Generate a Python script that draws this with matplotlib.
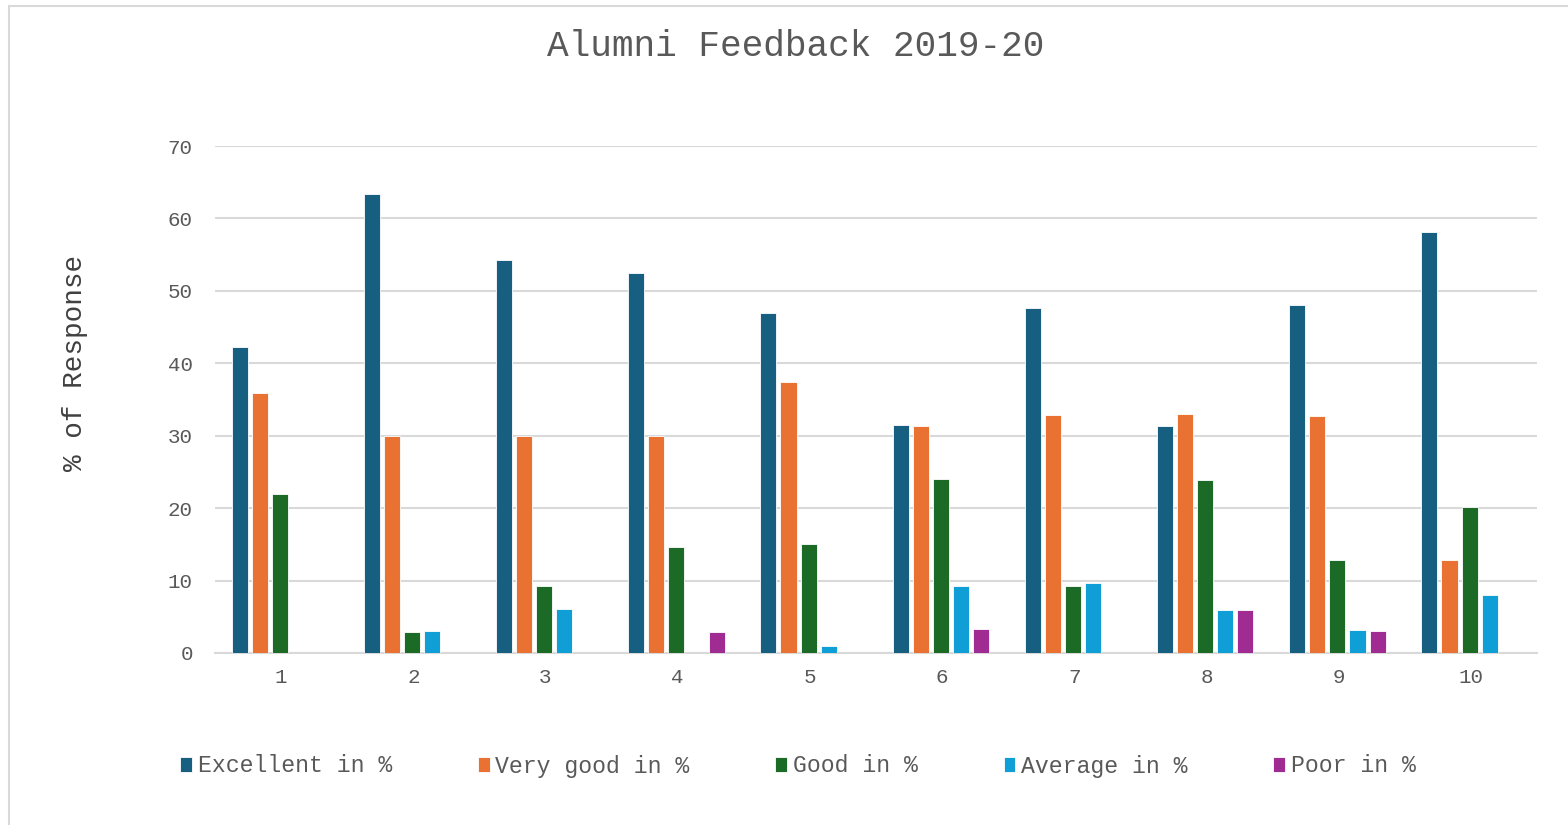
import numpy as np
import matplotlib.pyplot as plt
from matplotlib.patches import Rectangle

plt.rcParams['font.family'] = ['Liberation Mono', 'DejaVu Sans Mono']

questions = ["1", "2", "3", "4", "5", "6", "7", "8", "9", "10"]
excellent = [42.2, 63.4, 54.2, 52.5, 47.0, 31.5, 47.7, 31.4, 48.1, 58.1]
very_good = [35.9, 30.0, 30.0, 30.0, 37.4, 31.3, 32.9, 33.0, 32.7, 12.9]
good = [22.0, 2.95, 9.3, 14.7, 15.0, 24.0, 9.3, 23.9, 12.9, 20.1]
average = [0, 3.1, 6.1, 0, 0.95, 9.3, 9.7, 5.9, 3.2, 8.0]
poor = [0, 0, 0, 2.95, 0, 3.3, 0, 5.9, 3.1, 0]

series = [
    ("Excellent in %", excellent, "#165F80"),
    ("Very good in %", very_good, "#E97132"),
    ("Good in %", good, "#1B6A25"),
    ("Average in %", average, "#0F9ED5"),
    ("Poor in %", poor, "#A02B93"),
]

text_color = "#595959"

fig = plt.figure(figsize=(15.68, 8.25), dpi=100)
ax = fig.add_axes([215 / 1568, 1 - 653 / 825, 1322 / 1568, 507 / 825])

x = np.arange(len(questions))
slot = 0.152
bar_w = 0.122
for i, (name, vals, color) in enumerate(series):
    ax.bar(x + (i - 2) * slot - 0.01, vals, width=bar_w, color=color,
           edgecolor="white", linewidth=0.6, label=name, zorder=3)

ax.set_xlim(-0.5, len(questions) - 0.5)
ax.set_ylim(0, 70)
ax.set_yticks(range(0, 71, 10))
ax.set_xticks(x)
ax.set_xticklabels(questions)
ax.grid(axis="y", color="#D9D9D9", linewidth=1.5, zorder=0)
for s in ["top", "right", "left"]:
    ax.spines[s].set_visible(False)
ax.spines["bottom"].set_color("#D9D9D9")
ax.spines["bottom"].set_linewidth(1.5)
ax.tick_params(length=0, labelsize=15, labelcolor=text_color, pad=16)
ax.tick_params(axis="x", pad=11)

fig.text(75 / 1568, 1 - 363 / 825, "% of Response", rotation=90,
         ha="center", va="center", fontsize=20, color="#404040")

fig.text(0.5 + 12 / 1568, 1 - 47 / 825, "Alumni Feedback 2019-20",
         ha="center", va="center", fontsize=26, color=text_color)

fig.legend(loc="center", bbox_to_anchor=(798 / 1568, 1 - 766 / 825), ncol=5,
           frameon=False, fontsize=16.7, labelcolor=text_color,
           handlelength=0.5, handleheight=0.6, handletextpad=0.25,
           columnspacing=3.7)

# thin outer frame around the chart area
fig.patches.append(Rectangle((9 / 1568, -0.1), 1.2, 1 - 6 / 825 + 0.1,
                             transform=fig.transFigure, fill=False,
                             edgecolor="#D9D9D9", linewidth=1.5))

fig.savefig("out.png", dpi=100)
